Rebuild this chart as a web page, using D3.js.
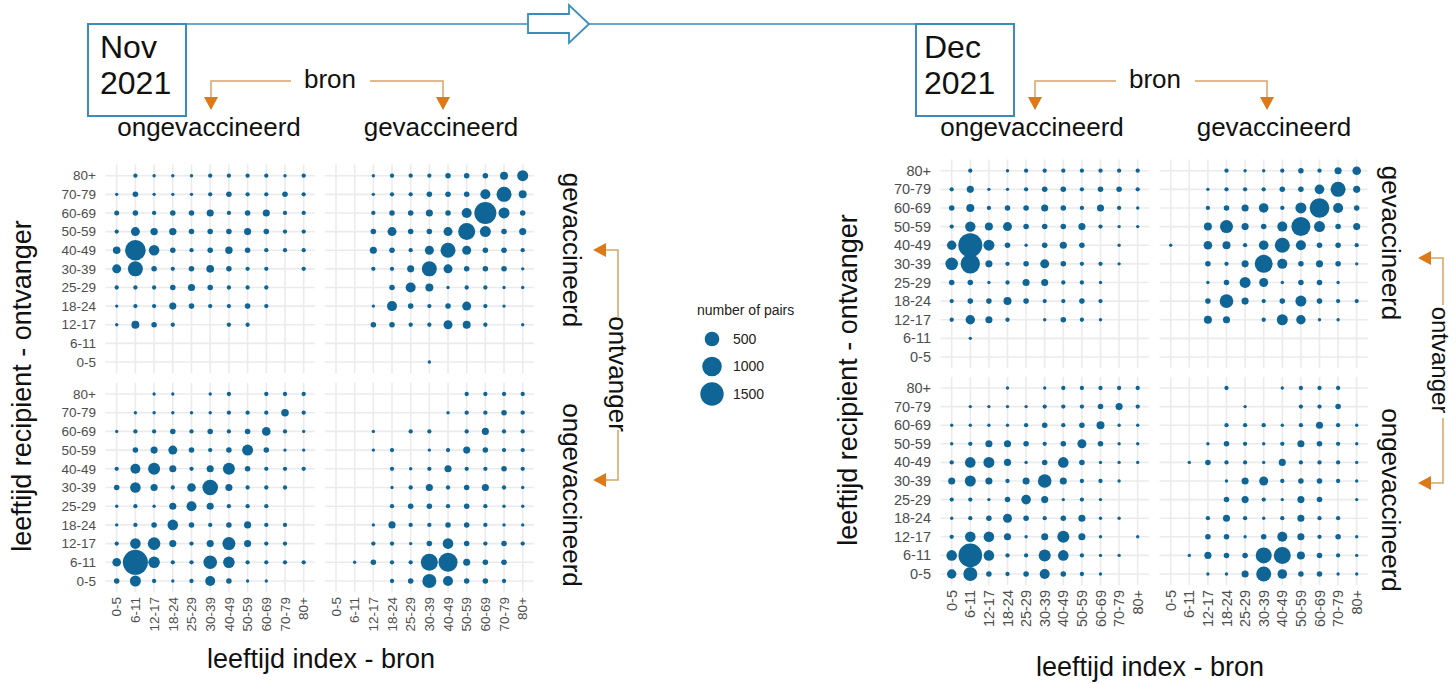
<!DOCTYPE html>
<html><head><meta charset="utf-8">
<script src="https://cdn.jsdelivr.net/npm/d3@7"></script>
<style>html,body{margin:0;padding:0;background:#fff;}svg{display:block;}</style>
</head><body>
<svg id="c" width="1456" height="684"></svg>
<script>
// ---------- DATA ----------
const ageGroups = ["0-5","6-11","12-17","18-24","25-29","30-39","40-49","50-59","60-69","70-79","80+"];
// rows: recipient age 80+ (top) ... 0-5 (bottom); columns: source age 0-5 ... 80+
const novRecVacSrcUnvac = [
 [0,10,2,2,2,10,10,10,10,2,10],
 [2,30,2,2,2,10,30,10,10,30,10],
 [20,30,10,30,30,70,10,30,70,10,10],
 [10,140,80,80,30,30,30,70,30,10,10],
 [85,1125,222,30,10,30,80,30,10,10,10],
 [142,534,30,10,30,90,30,10,10,0,10],
 [10,10,10,30,70,30,10,10,10,0,0],
 [2,10,10,70,30,10,10,30,10,0,0],
 [2,100,30,10,0,0,10,10,0,0,0],
 [0,0,0,0,0,0,0,0,0,0,0],
 [0,0,0,0,0,0,0,0,0,0,0]];
const novRecVacSrcVac = [
 [0,0,2,10,10,10,30,30,30,100,245],
 [0,0,2,10,10,30,30,30,190,534,100],
 [0,0,10,30,30,70,30,190,1307,245,30],
 [0,0,30,142,30,30,142,720,245,30,70],
 [0,0,70,30,10,142,534,142,30,30,10],
 [0,0,10,10,70,534,142,30,30,30,2],
 [0,0,0,30,190,100,2,10,10,2,2],
 [0,0,2,190,30,10,30,142,10,2,0],
 [0,0,30,30,10,10,142,100,10,0,2],
 [0,0,0,0,0,0,0,0,0,0,0],
 [0,0,0,0,0,2,0,0,0,0,0]];
const novRecUnvacSrcUnvac = [
 [0,0,2,2,0,2,10,0,10,10,10],
 [0,2,2,2,2,2,10,10,10,85,10],
 [2,10,10,30,10,30,10,30,125,10,2],
 [0,30,70,142,30,10,30,245,30,2,2],
 [10,190,307,70,10,70,307,30,10,10,10],
 [30,222,70,10,125,587,70,10,10,10,0],
 [2,10,2,70,190,70,10,10,10,0,0],
 [2,10,30,222,30,10,30,70,10,10,0],
 [10,222,347,70,10,70,376,70,10,10,0],
 [125,1743,281,10,10,420,281,10,10,10,10],
 [30,245,10,2,10,190,30,2,2,0,0]];
const novRecUnvacSrcVac = [
 [0,0,0,0,0,0,0,10,10,10,10],
 [0,0,0,0,0,0,2,10,10,30,10],
 [0,0,2,0,10,10,0,10,70,10,10],
 [0,0,2,10,0,2,10,70,30,10,10],
 [0,0,0,10,2,10,70,10,10,30,10],
 [0,0,0,2,10,70,10,30,70,10,2],
 [0,0,0,10,30,30,10,30,10,2,2],
 [0,0,2,70,10,10,30,30,10,2,2],
 [0,0,10,10,2,30,222,30,10,30,10],
 [0,2,30,10,10,720,934,70,30,30,0],
 [0,0,0,10,30,451,190,30,30,10,0]];
const decRecVacSrcUnvac = [
 [0,10,0,2,10,10,10,10,10,10,10],
 [10,70,2,2,10,30,30,10,30,30,10],
 [30,101,10,30,30,70,30,10,70,10,2],
 [10,211,101,142,30,30,30,70,10,2,2],
 [161,1590,245,30,2,30,70,30,0,2,0],
 [347,980,70,10,30,142,30,10,10,2,0],
 [30,30,2,10,70,70,10,10,2,0,0],
 [10,30,30,101,30,10,10,30,10,0,0],
 [10,161,70,10,0,2,30,10,2,0,0],
 [0,2,0,0,0,0,0,0,0,0,0],
 [0,0,0,0,0,0,0,0,0,0,0]];
const decRecVacSrcVac = [
 [0,0,0,10,2,2,10,30,10,70,125],
 [0,0,2,10,10,10,30,30,170,534,70],
 [0,0,10,30,70,170,10,245,1004,190,30],
 [0,0,101,376,70,30,190,934,245,30,70],
 [2,0,125,101,10,170,534,190,30,30,10],
 [0,0,30,10,70,824,190,30,70,30,2],
 [0,0,2,30,245,142,2,30,30,2,0],
 [0,0,30,420,70,10,30,245,30,10,10],
 [0,0,101,70,0,10,245,161,2,2,0],
 [0,0,0,0,0,0,0,0,0,0,0],
 [0,0,0,0,0,0,0,0,0,0,0]];
const decRecUnvacSrcUnvac = [
 [0,0,0,2,0,2,10,10,10,10,10],
 [0,2,2,2,2,10,10,10,30,70,10],
 [2,2,2,2,10,30,10,30,101,2,2],
 [2,10,70,70,30,10,30,142,30,2,2],
 [10,222,245,70,2,30,222,30,2,2,2],
 [70,245,70,10,70,420,70,10,10,2,0],
 [10,10,2,30,170,70,2,10,2,0,0],
 [2,10,30,142,30,10,30,70,2,2,0],
 [10,222,222,70,2,70,307,70,2,0,2],
 [222,1531,222,10,10,307,222,10,2,2,0],
 [161,451,30,10,30,190,30,10,2,0,0]];
const decRecUnvacSrcVac = [
 [0,0,0,10,0,0,2,10,10,10,0],
 [0,0,0,0,2,0,0,10,10,30,0],
 [0,0,0,10,10,10,2,10,70,10,2],
 [0,0,2,30,10,2,10,70,30,10,2],
 [0,2,30,10,10,2,70,10,10,10,2],
 [0,0,0,2,70,142,10,30,30,10,2],
 [0,0,0,30,70,10,2,70,30,0,2],
 [0,0,10,70,10,2,10,70,10,10,0],
 [0,0,30,30,2,30,190,70,10,30,2],
 [0,2,70,30,30,624,720,101,30,10,2],
 [0,0,2,2,70,534,170,30,30,2,2]];
const legendValues = [500, 1000, 1500];
const legendTitle = "number of pairs";
const statusLabels = ["ongevaccineerd", "gevaccineerd"];
const monthLabels = [["Nov","2021"],["Dec","2021"]];
const xTitle = "leeftijd index - bron";
const yTitle = "leeftijd recipient - ontvanger";
const sourceLabel = "bron";
const recipientLabel = "ontvanger";

// ---------- STYLE / LAYOUT ----------
const FONT = "'Liberation Sans', Arial, sans-serif";
const DOT = "#0f6596";
const GRID = "#ebebeb";
const BOXC = "#3a8dba";
const ORANGE = "#dc7a1a";
const ORLINE = "#d9a262";
const ANN = 26;
const recipientRows = ageGroups.slice().reverse();
const size = d3.scaleSqrt().domain([0, 1500]).range([1.3, 11.7]);

const svg = d3.select("#c");

const months = [
 { data: { tl: novRecVacSrcUnvac, tr: novRecVacSrcVac, bl: novRecUnvacSrcUnvac, br: novRecUnvacSrcVac },
   xL: [116.7, 303.7], xR: [336, 522.7], yT: [175.7, 362], yB: [394, 581],
   tick: 13.5, tickEnd: 96, xTickTop: 597, yTitleX: 22, yTitleY: 386, xTitleX: 321, xTitleY: 668,
   box: [88, 24, 98, 92], label: monthLabels[0], labelX: 100, labelY: [58, 94],
   bron: { y: 81, left: 211, right: 443, gapL: 291, gapR: 370, text: 330 },
   strip: { y: 136, xl: 209, xr: 441 },
   side: { tx: 572, ty1: 250, ty2: 495, lx: 618, ox: 618, ofs: ANN, a1: 250, a2: 480, tip: 593, gap1: 318, gap2: 430, oy: 374 } },
 { data: { tl: decRecVacSrcUnvac, tr: decRecVacSrcVac, bl: decRecUnvacSrcUnvac, br: decRecUnvacSrcVac },
   xL: [951.7, 1137.7], xR: [1170.7, 1356.7], yT: [170.7, 357], yB: [388, 574],
   tick: 14.5, tickEnd: 931, xTickTop: 590, yTitleX: 848, yTitleY: 380, xTitleX: 1150, xTitleY: 676,
   box: [916, 24, 98, 92], label: monthLabels[1], labelX: 924, labelY: [58, 94],
   bron: { y: 81, left: 1035, right: 1267, gapL: 1116, gapR: 1195, text: 1155 },
   strip: { y: 136, xl: 1032, xr: 1274 },
   side: { tx: 1391, ty1: 243, ty2: 500, lx: 1443, ox: 1440, ofs: 24, a1: 258, a2: 483, tip: 1418, gap1: 305, gap2: 418, oy: 360 } }
];

function drawPanel(g, data, xr, yr) {
  const x = d3.scalePoint().domain(ageGroups).range(xr);
  const y = d3.scalePoint().domain(recipientRows).range(yr);
  const ex = x.step() * 0.6, ey = y.step() * 0.6;
  const p = g.append("g");
  p.selectAll("line.h").data(recipientRows).join("line")
    .attr("x1", xr[0] - ex).attr("x2", xr[1] + ex)
    .attr("y1", d => y(d)).attr("y2", d => y(d))
    .attr("stroke", GRID).attr("stroke-width", 1.6);
  p.selectAll("line.v").data(ageGroups).join("line")
    .attr("y1", yr[0] - ey).attr("y2", yr[1] + ey)
    .attr("x1", d => x(d)).attr("x2", d => x(d))
    .attr("stroke", GRID).attr("stroke-width", 1.6);
  const pts = [];
  data.forEach((row, i) => row.forEach((v, j) => { if (v > 0) pts.push({ r: recipientRows[i], s: ageGroups[j], v }); }));
  p.selectAll("circle").data(pts).join("circle")
    .attr("cx", d => x(d.s)).attr("cy", d => y(d.r)).attr("r", d => size(d.v))
    .attr("fill", DOT);
  return { x, y };
}

function tri(g, pts) {
  g.append("path").attr("d", "M" + pts.map(p => p.join(",")).join("L") + "Z").attr("fill", ORANGE);
}
function txt(g, t, x, y, fs, rot, anchor) {
  return g.append("text").attr("transform", `translate(${x},${y})` + (rot ? ` rotate(${rot})` : ""))
    .attr("dy", "0.35em").attr("text-anchor", anchor || "middle")
    .attr("font-family", FONT).attr("font-size", fs).attr("fill", "#111").text(t);
}

months.forEach(m => {
  const g = svg.append("g");
  const tl = drawPanel(g, m.data.tl, m.xL, m.yT);
  drawPanel(g, m.data.tr, m.xR, m.yT);
  const bl = drawPanel(g, m.data.bl, m.xL, m.yB);
  const br = drawPanel(g, m.data.br, m.xR, m.yB);
  [tl, bl].forEach(s => {
    g.append("g").selectAll("text").data(recipientRows).join("text")
      .attr("x", m.tickEnd).attr("y", d => s.y(d)).attr("dy", "0.35em")
      .attr("text-anchor", "end").attr("font-family", FONT).attr("font-size", m.tick)
      .attr("fill", "#4d4d4d").text(d => d);
  });
  [bl, br].forEach(s => {
    g.append("g").selectAll("text").data(ageGroups).join("text")
      .attr("transform", d => `translate(${s.x(d)},${m.xTickTop}) rotate(-90)`)
      .attr("dy", "0.35em").attr("text-anchor", "end")
      .attr("font-family", FONT).attr("font-size", m.tick).attr("fill", "#4d4d4d").text(d => d);
  });
  txt(g, xTitle, m.xTitleX, m.xTitleY - 9, 27);
  txt(g, yTitle, m.yTitleX, m.yTitleY, 27, -90);
  const b = m.box;
  g.append("rect").attr("x", b[0]).attr("y", b[1]).attr("width", b[2]).attr("height", b[3])
    .attr("fill", "none").attr("stroke", BOXC).attr("stroke-width", 2);
  m.label.forEach((t, i) => g.append("text").attr("x", m.labelX).attr("y", m.labelY[i])
    .attr("font-family", FONT).attr("font-size", 32).attr("fill", "#111").text(t));
  const bb = m.bron;
  g.append("path").attr("d", `M${bb.left},98V${bb.y}H${bb.gapL}M${bb.gapR},${bb.y}H${bb.right}V98`)
    .attr("fill", "none").attr("stroke", ORLINE).attr("stroke-width", 1.5);
  tri(g, [[bb.left - 7, 97], [bb.left + 7, 97], [bb.left, 110]]);
  tri(g, [[bb.right - 7, 97], [bb.right + 7, 97], [bb.right, 110]]);
  txt(g, sourceLabel, bb.text, bb.y - 2, ANN);
  txt(g, statusLabels[0], m.strip.xl, m.strip.y - 9, ANN);
  txt(g, statusLabels[1], m.strip.xr, m.strip.y - 9, ANN);
  const s = m.side;
  txt(g, statusLabels[1], s.tx, s.ty1, ANN, 90);
  txt(g, statusLabels[0], s.tx, s.ty2, ANN, 90);
  txt(g, recipientLabel, s.ox, s.oy, s.ofs, 90);
  g.append("path").attr("d", `M${s.tip + 12},${s.a1}H${s.lx}V${s.gap1}M${s.lx},${s.gap2}V${s.a2}H${s.tip + 12}`)
    .attr("fill", "none").attr("stroke", ORLINE).attr("stroke-width", 1.5);
  tri(g, [[s.tip + 13, s.a1 - 7], [s.tip + 13, s.a1 + 7], [s.tip, s.a1]]);
  tri(g, [[s.tip + 13, s.a2 - 7], [s.tip + 13, s.a2 + 7], [s.tip, s.a2]]);
});

svg.append("path").attr("d", "M186,24H528M589,24H916").attr("stroke", BOXC).attr("stroke-width", 1.5).attr("fill", "none");
svg.append("path").attr("d", "M528,14H569V5L589,24L569,43V33H528Z").attr("fill", "#fff").attr("stroke", BOXC).attr("stroke-width", 1.8);

const lg = svg.append("g");
lg.append("text").attr("x", 697).attr("y", 315).attr("font-family", FONT).attr("font-size", 14).attr("fill", "#222").text(legendTitle);
const ly = d3.scalePoint().domain(legendValues).range([339, 394]);
lg.selectAll("circle").data(legendValues).join("circle")
  .attr("cx", 712).attr("cy", d => ly(d)).attr("r", d => size(d)).attr("fill", DOT);
lg.selectAll("text.l").data(legendValues).join("text").attr("class", "l")
  .attr("x", 733).attr("y", d => ly(d)).attr("dy", "0.35em")
  .attr("font-family", FONT).attr("font-size", 14).attr("fill", "#222").text(d => d);
</script>
</body></html>
